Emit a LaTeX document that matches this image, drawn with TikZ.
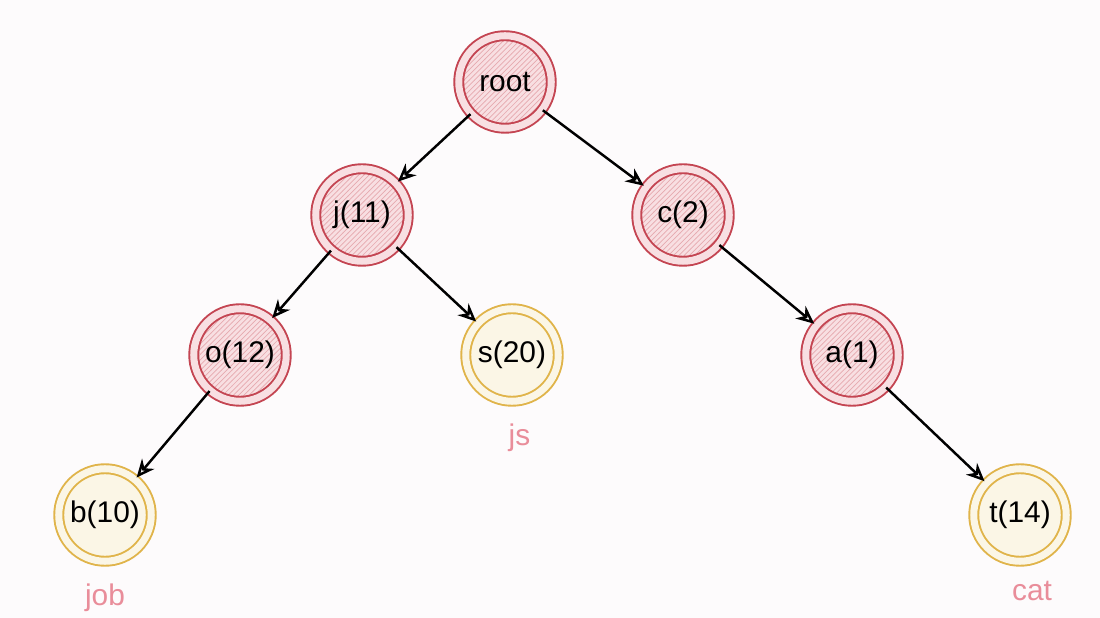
\documentclass[tikz,border=0pt]{standalone}
\usepackage{fontspec}
\setmainfont{Liberation Sans}
\usepackage{tikz}
\usetikzlibrary{arrows.meta,positioning,patterns}
\definecolor{redline}{HTML}{C44552}
\definecolor{redfill}{HTML}{F8DFE2}
\definecolor{redhatch}{HTML}{E6A9AF}
\definecolor{yellowline}{HTML}{E0B44A}
\definecolor{yellowfill}{HTML}{FBF6E6}
\definecolor{wordpink}{HTML}{E98D9A}
\definecolor{paper}{HTML}{FDFBFC}
\tikzset{
  rednode/.style={circle,draw=redline,line width=1.1pt,double=redfill,double distance=4pt,
    preaction={fill=redfill},pattern=north east lines,pattern color=redhatch,
    minimum size=1.85cm,inner sep=0pt,font=\fontsize{17}{20}\selectfont},
  leafnode/.style={circle,draw=yellowline,line width=1.1pt,double=yellowfill,double distance=4pt,
    fill=yellowfill,minimum size=1.85cm,inner sep=0pt,font=\fontsize{17}{20}\selectfont},
  treearrow/.style={-{Stealth[length=3.6mm,width=3.2mm,open]},line width=1.4pt,black,shorten >=1pt},
  wordlabel/.style={text=wordpink,font=\fontsize{17}{20}\selectfont}
}

\begin{document}
\begin{tikzpicture}[node distance=0.5cm]
  \fill[paper] (0,0) rectangle (22,12.36);
  \useasboundingbox (0,0) rectangle (22,12.36);
  \node[rednode] (root) at (10.10,10.72) {root};
  \node[rednode] (j) at (7.24,8.06) {j(11)};
  \node[rednode] (c) at (13.66,8.06) {c(2)};
  \node[rednode] (o) at (4.80,5.26) {o(12)};
  \node[leafnode] (s) at (10.24,5.26) {s(20)};
  \node[rednode] (a) at (17.04,5.26) {a(1)};
  \node[leafnode] (b) at (2.10,2.06) {b(10)};
  \node[leafnode] (t) at (20.40,2.06) {t(14)};
  \node[wordlabel,below=0.3cm of s,xshift=0.15cm] (js) {js};
  \node[wordlabel,below=0.3cm of b] (job) {job};
  \node[wordlabel,below=0.25cm of t,xshift=0.24cm] (cat) {cat};
  \draw[treearrow] (root) -- (j);
  \draw[treearrow] (root) -- (c);
  \draw[treearrow] (j) -- (o);
  \draw[treearrow] (j) -- (s);
  \draw[treearrow] (c) -- (a);
  \draw[treearrow] (o) -- (b);
  \draw[treearrow] (a) -- (t);
\end{tikzpicture}
\end{document}
